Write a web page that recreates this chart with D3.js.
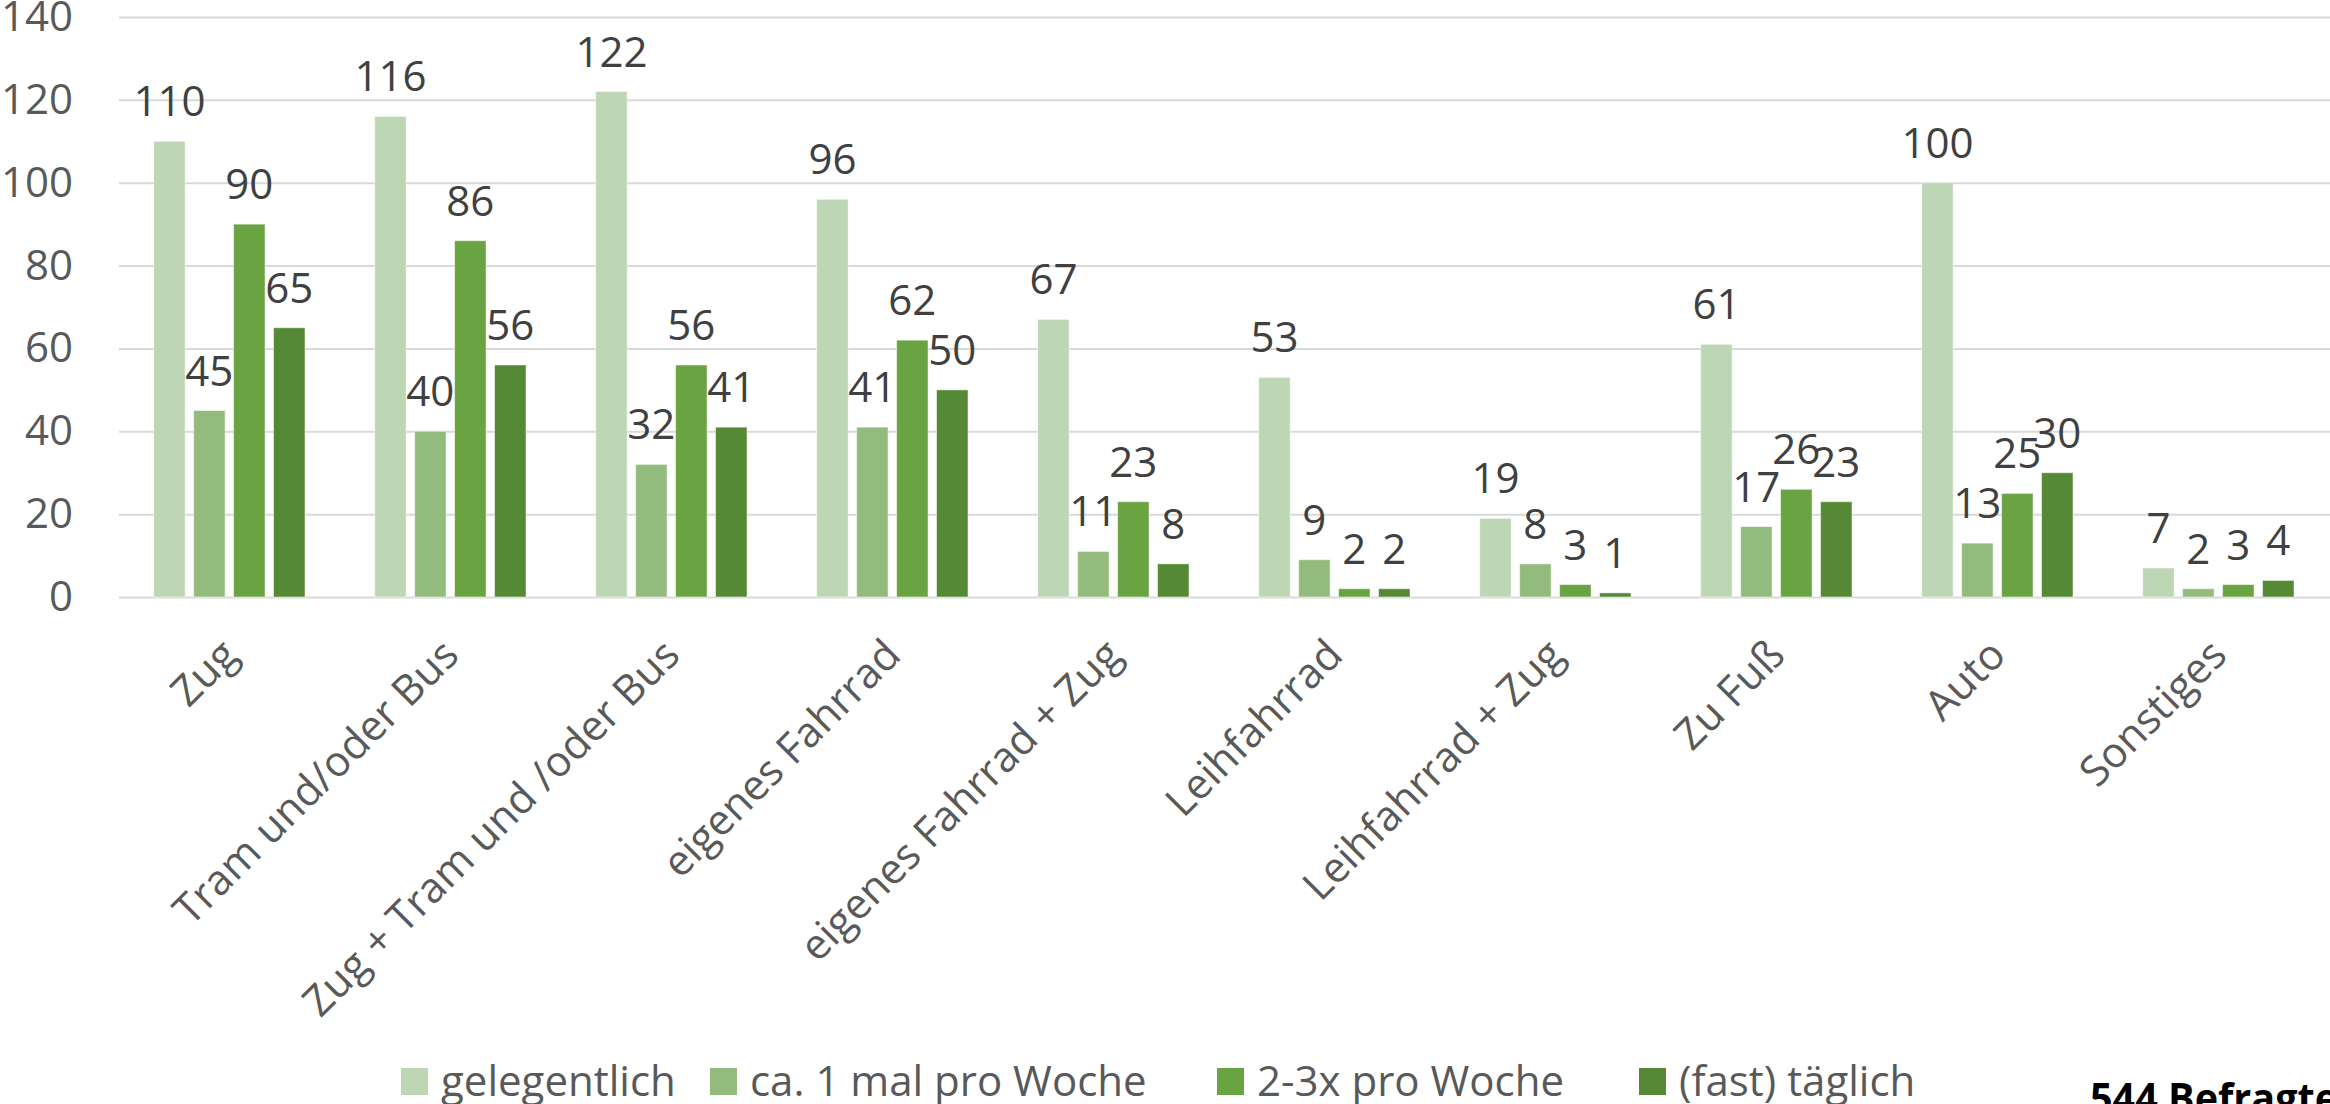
<!DOCTYPE html>
<html>
<head>
<meta charset="utf-8">
<script src="https://cdn.jsdelivr.net/npm/d3@7"></script>
<style>
  html, body { margin: 0; padding: 0; background: #fff; overflow: hidden; }
  svg { display: block; }
  text { font-family: "Open Sans", "Noto Sans", sans-serif; }
</style>
</head>
<body>
<svg id="chart" width="2330" height="1104"></svg>
<script>
const categories = ["Zug", "Tram und/oder Bus", "Zug + Tram und /oder Bus", "eigenes Fahrrad",
  "eigenes Fahrrad + Zug", "Leihfahrrad", "Leihfahrrad + Zug", "Zu Fuß", "Auto", "Sonstiges"];
const seriesNames = ["gelegentlich", "ca. 1 mal pro Woche", "2-3x pro Woche", "(fast) täglich"];
const gelegentlich = [110, 116, 122, 96, 67, 53, 19, 61, 100, 7];
const einmalProWoche = [45, 40, 32, 41, 11, 9, 8, 17, 13, 2];
const zweiDreiProWoche = [90, 86, 56, 62, 23, 2, 3, 26, 25, 3];
const fastTaeglich = [65, 56, 41, 50, 8, 2, 1, 23, 30, 4];
const yTicks = [0, 20, 40, 60, 80, 100, 120, 140];
const colors = ["#BDD6B4", "#93BB7D", "#69A342", "#558935"];
const footnote = "544 Befragte";

const seriesValues = [gelegentlich, einmalProWoche, zweiDreiProWoche, fastTaeglich];

const svg = d3.select("#chart");
const plot = { left: 119, right: 2329, top: 17, bottom: 597 };
const FS = 42;

const y = d3.scaleLinear().domain([0, 140]).range([plot.bottom, plot.top]);
const x0 = d3.scaleBand().domain(categories).range([plot.left, plot.right]).padding(0);
const x1 = d3.scaleBand().domain(seriesNames).range([34.7, 34.7 + 151.3]).paddingInner(0.2125).paddingOuter(0);

// gridlines + y labels
const yAxis = d3.axisLeft(y).tickValues(yTicks).tickSize(-(plot.right - plot.left + 1)).tickPadding(46);
const gy = svg.append("g").attr("transform", `translate(${plot.left},0)`).call(yAxis);
gy.select(".domain").remove();
gy.selectAll(".tick line").attr("stroke", "#D9D9D9").attr("stroke-width", 2);
gy.selectAll(".tick text")
  .attr("fill", "#595959")
  .attr("font-size", FS)
  .attr("font-family", "'Open Sans', sans-serif");

// bars
const groups = svg.append("g").selectAll("g")
  .data(categories)
  .join("g")
  .attr("transform", d => `translate(${x0(d)},0)`);

groups.each(function(cat, ci) {
  const g = d3.select(this);
  seriesNames.forEach((s, si) => {
    const v = seriesValues[si][ci];
    g.append("rect")
      .attr("x", x1(s))
      .attr("y", y(v))
      .attr("width", x1.bandwidth())
      .attr("height", y(0) - y(v))
      .attr("fill", colors[si])
      .attr("stroke", "#ffffff")
      .attr("stroke-opacity", 0.5)
      .attr("stroke-width", 1);
  });
});

groups.each(function(cat, ci) {
  const g = d3.select(this);
  seriesNames.forEach((s, si) => {
    const v = seriesValues[si][ci];
    g.append("text")
      .attr("x", x1(s) + x1.bandwidth() / 2)
      .attr("y", y(v) - 25)
      .attr("text-anchor", "middle")
      .attr("fill", "#404040")
      .attr("font-size", FS)
      .text(v);
  });
});

// category axis labels
const xAxis = d3.axisBottom(x0).tickSize(0).tickPadding(0);
const gx = svg.append("g").attr("transform", `translate(0,${plot.bottom})`).call(xAxis);
gx.select(".domain").remove();
gx.selectAll(".tick text")
  .attr("fill", "#595959")
  .attr("font-size", FS)
  .attr("font-family", "'Open Sans', sans-serif")
  .attr("text-anchor", "end")
  .attr("x", 0).attr("y", 0).attr("dy", "0.35em")
  .attr("transform", "translate(0,50) rotate(-45)");

// legend
const legendX = [401, 710, 1217, 1639];
const legend = svg.append("g").attr("transform", "translate(0,1081)");
seriesNames.forEach((s, i) => {
  const item = legend.append("g").attr("transform", `translate(${legendX[i]},0)`);
  item.append("rect").attr("x", 0).attr("y", -13).attr("width", 27).attr("height", 27).attr("fill", colors[i]);
  item.append("text").attr("x", 40).attr("y", 0).attr("dy", "0.35em")
    .attr("fill", "#595959").attr("font-size", FS).text(s);
});

svg.append("text")
  .attr("x", 2090).attr("y", 1113)
  .attr("font-size", 42).attr("font-weight", "bold").attr("fill", "#000")
  .attr("textLength", 248).attr("lengthAdjust", "spacingAndGlyphs")
  .text(footnote);
</script>
</body>
</html>
